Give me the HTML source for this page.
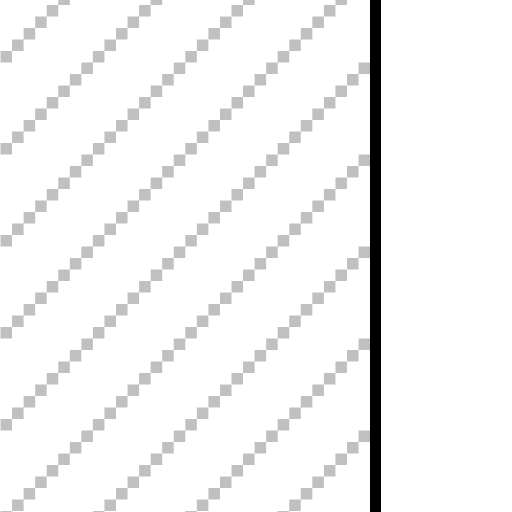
<!DOCTYPE html>
<html><head><meta charset="utf-8"><style>
html,body{margin:0;padding:0;background:#fff;width:512px;height:512px;overflow:hidden}
</style></head><body>
<svg id="chart" width="512" height="512" xmlns="http://www.w3.org/2000/svg">
<rect x="0" y="0" width="512" height="512" fill="#fff"></rect>
<g id="cells"></g>
<rect x="370" y="0" width="11" height="512" fill="#000"></rect>
</svg>
<script>
const cellCols = [32];
const cellRows = [46];
const lineModulo = [8];
const lineResidue = [5];
const g = document.getElementById('cells');
const cw = 11.55, ch = 11.5, ox = 0.5, oy = -6.5;
for (let j = 0; j < cellRows[0]; j++) {
  for (let i = 0; i < cellCols[0]; i++) {
    if ((i + j) % lineModulo[0] === lineResidue[0]) {
      const r = document.createElementNS('http://www.w3.org/2000/svg', 'rect');
      const x = ox + i * cw, y = oy + j * ch;
      r.setAttribute('x', x.toFixed(2));
      r.setAttribute('y', y.toFixed(2));
      r.setAttribute('width', Math.min(cw, 370 - x).toFixed(2));
      r.setAttribute('height', ch);
      r.setAttribute('fill', '#c0c0c0');
      
      
      g.appendChild(r);
    }
  }
}
</script>
</body></html>
